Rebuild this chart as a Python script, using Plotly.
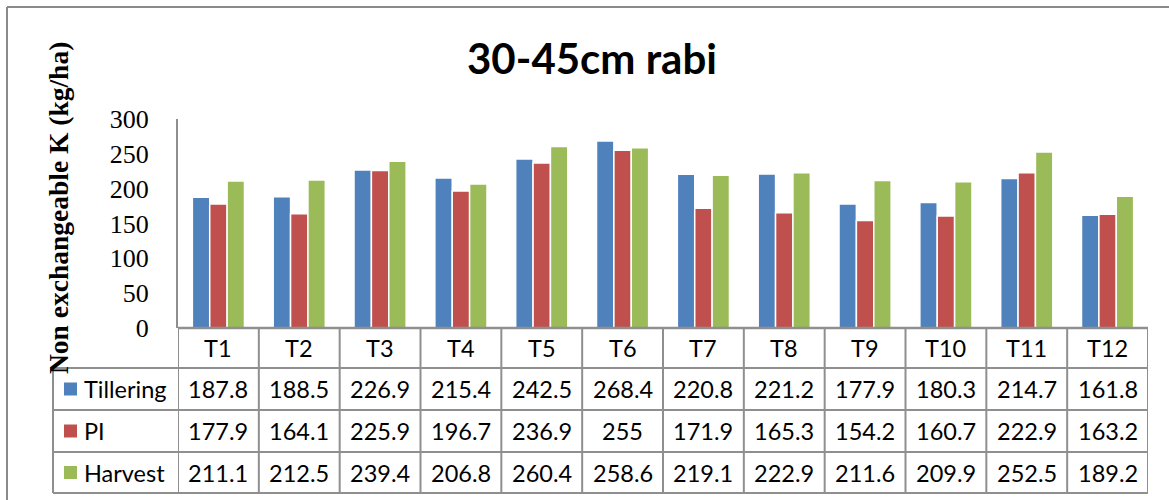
import plotly.graph_objects as go

categories = ["T1", "T2", "T3", "T4", "T5", "T6", "T7", "T8", "T9", "T10", "T11", "T12"]
tillering = [187.8, 188.5, 226.9, 215.4, 242.5, 268.4, 220.8, 221.2, 177.9, 180.3, 214.7, 161.8]
pi = [177.9, 164.1, 225.9, 196.7, 236.9, 255, 171.9, 165.3, 154.2, 160.7, 222.9, 163.2]
harvest = [211.1, 212.5, 239.4, 206.8, 260.4, 258.6, 219.1, 222.9, 211.6, 209.9, 252.5, 189.2]
series_names = ["Tillering", "PI", "Harvest"]
series_colors = ["#4F81BD", "#C0504D", "#9BBB59"]
title_text = "30-45cm rabi"
y_title = "Non exchangeable K (kg/ha)"
y_ticks = [0, 50, 100, 150, 200, 250, 300]

W, H = 1169, 500
L, R, T, B = 178, 1148, 119, 328  # plot area in pixels
PW, PH = R - L, B - T

def px(X):
    return (X - L) / PW

def py(Y):
    return (B - Y) / PH

fig = go.Figure()
for name, vals, col in zip(series_names, [tillering, pi, harvest], series_colors):
    fig.add_trace(go.Bar(
        x=categories, y=vals, name=name,
        marker=dict(color=col, line=dict(color="white", width=1.5)),
        showlegend=False,
    ))

line_col = "#8f8f8f"
shapes = []
annotations = []

# outer frame
shapes.append(dict(type="line", xref="paper", yref="paper", x0=px(7), x1=px(W + 5), y0=py(7), y1=py(7),
                   line=dict(color="#8a8a8a", width=2)))
shapes.append(dict(type="line", xref="paper", yref="paper", x0=px(7), x1=px(7), y0=py(7), y1=py(H + 5),
                   line=dict(color="#8a8a8a", width=2)))

# table geometry (pixel rows)
row_edges = [328, 368, 410, 452, 493]
leg_left = 53
shapes.append(dict(type="line", xref="paper", yref="paper", x0=0, x1=1, y0=py(row_edges[0]), y1=py(row_edges[0]),
                   line=dict(color=line_col, width=2.5)))
for ye in row_edges[1:]:
    shapes.append(dict(type="line", xref="paper", yref="paper", x0=px(leg_left), x1=1, y0=py(ye), y1=py(ye),
                       line=dict(color=line_col, width=2)))
for i in range(len(categories) + 1):
    shapes.append(dict(type="line", xref="x", yref="paper", x0=i - 0.5, x1=i - 0.5,
                       y0=py(row_edges[0]), y1=py(row_edges[-1]), line=dict(color=line_col, width=2)))
shapes.append(dict(type="line", xref="paper", yref="paper", x0=px(leg_left), x1=px(leg_left),
                   y0=py(row_edges[1]), y1=py(row_edges[-1]), line=dict(color=line_col, width=2)))

cell_font = dict(family="Lato, Carlito, sans-serif", size=23.5, color="black")
for i, c in enumerate(categories):
    annotations.append(dict(xref="x", yref="paper", x=i, y=py((row_edges[0] + row_edges[1]) / 2),
                            text=c, showarrow=False, font=cell_font, xanchor="center", yanchor="middle"))
for r, (name, vals, col) in enumerate(zip(series_names, [tillering, pi, harvest], series_colors)):
    yc = (row_edges[r + 1] + row_edges[r + 2]) / 2
    for i, v in enumerate(vals):
        annotations.append(dict(xref="x", yref="paper", x=i, y=py(yc), text=f"{v:g}", showarrow=False,
                                font=cell_font, xanchor="center", yanchor="middle"))
    shapes.append(dict(type="rect", xref="paper", yref="paper", x0=px(64), x1=px(77),
                       y0=py(yc - 6.5), y1=py(yc + 6.5), fillcolor=col, line=dict(width=0)))
    annotations.append(dict(xref="paper", yref="paper", x=px(82), y=py(yc), text=name, showarrow=False,
                            font=cell_font, xanchor="left", yanchor="middle"))

annotations.append(dict(xref="paper", yref="paper", x=px(592), y=py(58), text=f"<b>{title_text}</b>",
                        showarrow=False, font=dict(family="Lato, sans-serif", size=42, color="black"),
                        xanchor="center", yanchor="middle"))
annotations.append(dict(xref="paper", yref="paper", x=px(58), y=py(208), text=f"<b>{y_title}</b>",
                        showarrow=False, textangle=-90,
                        font=dict(family="Liberation Serif, Times New Roman, serif", size=27.5, color="black"),
                        xanchor="center", yanchor="middle"))

fig.update_layout(
    width=W, height=H,
    margin=dict(l=L, r=W - R, t=T, b=H - B, pad=0),
    paper_bgcolor="white", plot_bgcolor="white",
    barmode="group", bargap=0.355, bargroupgap=0,
    shapes=shapes, annotations=annotations,
    xaxis=dict(showticklabels=False, showline=False, showgrid=False, zeroline=False, ticks="",
               range=[-0.5, len(categories) - 0.5]),
    yaxis=dict(range=[0, 300], tickvals=y_ticks, showgrid=False, zeroline=False,
               showline=True, linecolor=line_col, linewidth=2, ticks="",
               ticklabelstandoff=22,
               tickfont=dict(family="Liberation Serif, Times New Roman, serif", size=26, color="black")),
)

fig.write_html("out.html")
